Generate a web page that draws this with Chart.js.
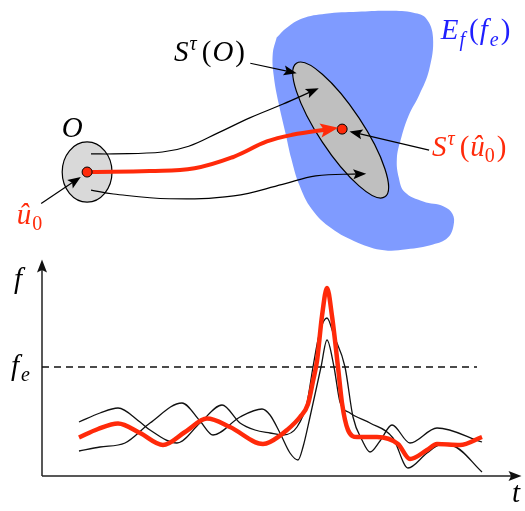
<!DOCTYPE html>
<html>
<head>
<meta charset="utf-8">
<script src="https://cdn.jsdelivr.net/npm/chart.js@4.4.0/dist/chart.umd.min.js"></script>
<style>
  html, body { margin: 0; padding: 0; background: #fff; }
  #wrap { position: relative; width: 525px; height: 511px; }
  .box { position: absolute; left: 0; width: 525px; }
</style>
</head>
<body>
<div id="wrap">
  <div class="box" style="top:0;height:262px"><canvas id="sketch"></canvas></div>
  <div class="box" style="top:250px;height:261px"><canvas id="plot"></canvas></div>
</div>
<script>
// ---- time series (t measured from the f axis) ----
var tRed   = [37, 56, 76, 98, 121, 143, 165, 188, 221, 228, 245, 258, 266, 271, 275, 280, 285, 290, 296, 300, 306, 315, 335, 356, 368, 385, 395, 418, 440];
var fRed   = [38.5, 47, 52.5, 43, 31, 44, 57.5, 49, 32, 34, 46, 59, 72, 95, 115, 160, 188, 160, 109, 73, 46, 39, 39, 32, 17, 26, 32, 31, 39];
var tUpper = [37, 58, 76, 98, 108, 135, 158, 180, 198, 213, 228, 241, 255, 265, 271, 278, 285, 292, 303, 311, 320, 328, 338, 350, 368, 395, 440];
var fUpper = [54, 63, 68, 54, 46, 33, 53, 71, 53, 46, 43, 41, 49, 73, 109, 145, 158, 140, 109, 59, 36, 24, 35, 51, 33, 48, 34];
var tLower = [37, 58, 83, 108, 140, 158, 171, 198, 220, 228, 238, 248, 256, 261, 268, 279, 285, 292, 298, 308, 328, 351, 366, 385, 398, 411, 440];
var fLower = [25, 29, 33, 53, 73, 55, 41, 59, 67, 61, 43, 23, 16, 29, 59, 109, 136, 109, 74, 63, 53, 38, 8, 23, 31, 30, 4];
var fe = 109;
var tDashEnd = 435;

// ---- sketch above the plot (page pixels) ----
var blobX = [277, 287, 303, 327, 360, 393, 417, 430, 437, 433, 423, 412, 404, 400, 402, 408, 427, 448, 457, 458, 452, 437, 410, 387, 360, 333, 313, 300, 292, 286, 279, 274, 273, 277];
var blobY = [33, 23, 13, 8, 6, 5, 7, 13, 33, 67, 93, 115, 140, 160, 180, 195, 205, 210, 218, 230, 243, 250, 255, 256, 248, 233, 213, 187, 160, 133, 102, 73, 50, 33];
var upperX = [87, 110, 160, 187, 217, 250, 283, 314];
var upperY = [155, 155, 153, 147, 133, 117, 103, 89];
var redX = [88, 147, 193, 233, 267, 293, 331];
var redY = [174, 173, 170, 158, 142, 135, 129];
var lowerX = [87, 110, 167, 233, 283, 317, 362];
var lowerY = [193, 197, 202, 199, 187, 178, 176];
var dotX = [83, 344];
var dotY = [174, 129];

var red = '#ff2a0a';
var serif = '"Liberation Serif", "DejaVu Serif", "Times New Roman", serif';

function pts(xs, ys) {
  return xs.map(function (x, i) { return { x: x, y: ys[i] }; });
}

function arrowHead(ctx, x, y, ang, len, half, color) {
  ctx.save();
  ctx.translate(x, y);
  ctx.rotate(ang);
  ctx.beginPath();
  ctx.moveTo(len * 0.5, 0);
  ctx.lineTo(-len * 0.5, -half);
  ctx.lineTo(-len * 0.3, 0);
  ctx.lineTo(-len * 0.5, half);
  ctx.closePath();
  ctx.fillStyle = color;
  ctx.fill();
  ctx.restore();
}

function runs(ctx, x, y, parts, color, size) {
  ctx.fillStyle = color;
  ctx.textAlign = 'left';
  ctx.textBaseline = 'alphabetic';
  parts.forEach(function (p) {
    var s = Math.round(size * (p.s || 1));
    ctx.font = (p.it === false ? 'normal ' : 'italic ') + s + 'px ' + serif;
    ctx.fillText(p.t, x, y + (p.dy || 0) * size);
    x += ctx.measureText(p.t).width + (p.k || 0);
  });
}

var sketchPlugin = {
  id: 'sketch',
  afterDatasetDraw: function (chart, args) {
    if (chart.data.datasets[args.index].id !== 'blob') return;
    var ctx = chart.ctx, sx = chart.scales.x, sy = chart.scales.y;
    function ell(cx, cy, rx, ry, rot, fill) {
      ctx.save();
      ctx.beginPath();
      ctx.ellipse(sx.getPixelForValue(cx), sy.getPixelForValue(cy),
        sx.getPixelForValue(cx + rx) - sx.getPixelForValue(cx),
        sy.getPixelForValue(cy + ry) - sy.getPixelForValue(cy), rot, 0, Math.PI * 2);
      ctx.fillStyle = fill;
      ctx.fill();
      ctx.lineWidth = 1.2;
      ctx.strokeStyle = '#000';
      ctx.stroke();
      ctx.restore();
    }
    ell(83, 174, 25.5, 31.5, 0, '#d9d9d9');
    ell(342.5, 130, 82, 23, 56.5 * Math.PI / 180, '#bfbfbf');
  },
  afterDatasetsDraw: function (chart) {
    var ctx = chart.ctx, sx = chart.scales.x, sy = chart.scales.y;
    chart.data.datasets.forEach(function (ds, i) {
      if (!ds.arrow) return;
      var pts = chart.getDatasetMeta(i).data;
      var p = pts[pts.length - 1], q = pts[pts.length - 2];
      var bx = q.x, by = q.y;
      if (p.cp1x !== undefined && (Math.abs(p.cp1x - p.x) > 0.5 || Math.abs(p.cp1y - p.y) > 0.5)) { bx = p.cp1x; by = p.cp1y; }
      arrowHead(ctx, p.x, p.y, Math.atan2(p.y - by, p.x - bx), ds.arrow[0], ds.arrow[1], ds.borderColor);
    });
    function at(x, y) { return [sx.getPixelForValue(x), sy.getPixelForValue(y)]; }
    var a;
    a = at(445, 35);
    runs(ctx, a[0], a[1], [{ t: 'E', k: 1 }, { t: 'f', s: 0.7, dy: 0.22, k: 4 }, { t: '(', it: false, k: 1 }, { t: 'f', k: 2 }, { t: 'e', s: 0.7, dy: 0.22, k: 2 }, { t: ')', it: false }], '#1f1fff', 29);
    a = at(172, 58);
    runs(ctx, a[0], a[1], [{ t: 'S', k: 1 }, { t: '\u03c4', s: 0.7, dy: -0.38, k: 5 }, { t: '(', it: false, k: 1 }, { t: 'O', k: 2 }, { t: ')', it: false }], '#000', 29);
    a = at(436, 157);
    runs(ctx, a[0], a[1], [{ t: 'S', k: 1 }, { t: '\u03c4', s: 0.7, dy: -0.38, k: 5 }, { t: '(', it: false, k: 1 }, { t: '\u00fb' }, { t: '0', it: false, s: 0.7, dy: 0.22, k: 2 }, { t: ')', it: false }], red, 29);
    a = at(57, 137);
    runs(ctx, a[0], a[1], [{ t: 'O' }], '#000', 29);
    a = at(11, 228);
    runs(ctx, a[0], a[1], [{ t: '\u00fb', k: 1 }, { t: '0', it: false, s: 0.7, dy: 0.22 }], red, 29);
  }
};

function curve(id, xs, ys, color, width, tension, arrow, order) {
  return {
    id: id, data: pts(xs, ys), showLine: true, borderColor: color, borderWidth: width,
    tension: tension, pointRadius: 0, fill: false, arrow: arrow, order: order, clip: false
  };
}

new Chart(document.getElementById('sketch'), {
  type: 'scatter',
  data: {
    datasets: [
      { id: 'blob', data: pts(blobX, blobY), showLine: true, borderWidth: 0, borderColor: 'rgba(0,0,0,0)',
        backgroundColor: '#7f9bff', fill: 'shape', tension: 0.4, pointRadius: 0, order: 10, clip: false },
      curve('upper', upperX, upperY, '#000', 1.2, 0.4, [13, 5], 5),
      curve('lower', lowerX, lowerY, '#000', 1.2, 0.4, [13, 5], 5),
      curve('red', redX, redY, red, 4, 0.4, [18, 7], 3),
      curve('pO', [250, 291], [60, 69], '#000', 1.2, 0, [13, 5], 5),
      curve('pS', [433, 358], [151, 133], '#000', 1.2, 0, [13, 5], 5),
      curve('pu', [36, 71], [207, 183], '#000', 1.2, 0, [13, 5], 5),
      { id: 'dots', data: pts(dotX, dotY), pointRadius: 5, backgroundColor: red, borderColor: '#000',
        borderWidth: 1, showLine: false, order: 0, clip: false }
    ]
  },
  options: {
    responsive: true, maintainAspectRatio: false, animation: false,
    layout: { padding: 0 },
    plugins: { legend: { display: false }, tooltip: { enabled: false } },
    events: [],
    scales: {
      x: { type: 'linear', display: false, min: 0, max: 525 },
      y: { type: 'linear', display: false, min: 0, max: 262, reverse: true }
    }
  },
  plugins: [sketchPlugin]
});

// ---- f(t) plot ----
var axesPlugin = {
  id: 'axes',
  beforeDatasetsDraw: function (chart) {
    var ctx = chart.ctx, ca = chart.chartArea;
    ctx.save();
    ctx.strokeStyle = '#222';
    ctx.lineWidth = 1.5;
    ctx.beginPath();
    ctx.moveTo(ca.left, ca.bottom);
    ctx.lineTo(ca.left, ca.top + 6);
    ctx.moveTo(ca.left, ca.bottom);
    ctx.lineTo(ca.right - 6, ca.bottom);
    ctx.stroke();
    ctx.restore();
    arrowHead(ctx, ca.left, ca.top + 6, -Math.PI / 2, 13, 5, '#111');
    arrowHead(ctx, ca.right - 6, ca.bottom, 0, 13, 5, '#111');
  },
  afterDraw: function (chart) {
    var ctx = chart.ctx, ca = chart.chartArea, sy = chart.scales.y;
    runs(ctx, 14, ca.top + 28, [{ t: 'f' }], '#000', 29);
    runs(ctx, 11, sy.getPixelForValue(fe) + 8, [{ t: 'f', k: 2 }, { t: 'e', s: 0.7, dy: 0.22 }], '#000', 29);
    runs(ctx, ca.right - 9, ca.bottom + 26, [{ t: 't' }], '#000', 29);
  }
};

function series(xs, ys, color, width, order) {
  return {
    data: pts(xs, ys), showLine: true, borderColor: color, borderWidth: width,
    cubicInterpolationMode: 'monotone', pointRadius: 0, fill: false, order: order
  };
}

var feLine = series([0, tDashEnd], [fe, fe], '#111', 1.3, 2);
feLine.borderDash = [7, 5];

new Chart(document.getElementById('plot'), {
  type: 'scatter',
  data: {
    datasets: [
      series(tRed, fRed, red, 4.5, 0),
      series(tUpper, fUpper, '#111', 1.3, 1),
      series(tLower, fLower, '#111', 1.3, 1),
      feLine
    ]
  },
  options: {
    responsive: true, maintainAspectRatio: false, animation: false,
    layout: { padding: { left: 42, right: 4, top: 10, bottom: 35 } },
    plugins: { legend: { display: false }, tooltip: { enabled: false } },
    events: [],
    scales: {
      x: { type: 'linear', display: false, min: 0, max: 479 },
      y: { type: 'linear', display: false, min: 0, max: 216 }
    }
  },
  plugins: [axesPlugin]
});
</script>
</body>
</html>
